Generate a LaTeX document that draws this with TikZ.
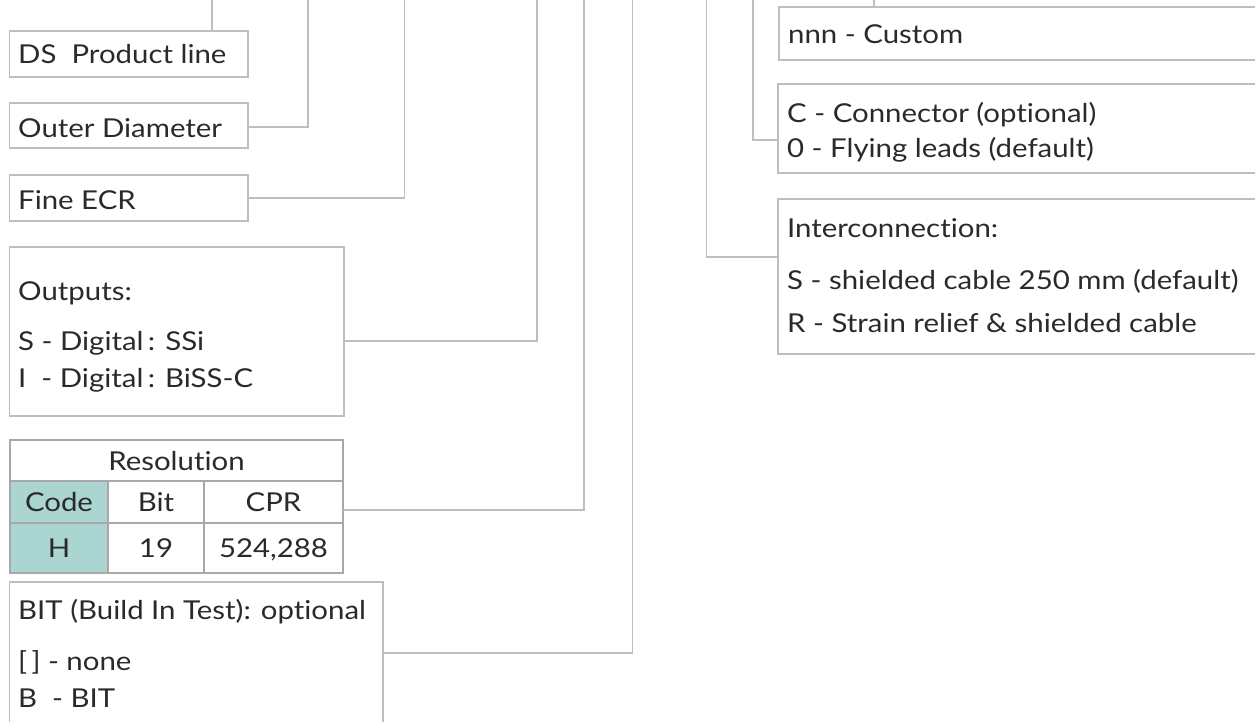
\documentclass[tikz,border=0pt]{standalone}
\usepackage{fontspec}
\setmainfont{Lato}[FakeStretch=1.13, Ligatures={NoCommon,NoContextual}]
\definecolor{boxgray}{HTML}{BEBEBE}
\definecolor{tabgray}{HTML}{A8A8A8}
\definecolor{teal}{HTML}{AAD5D0}
\definecolor{txt}{HTML}{2A2A2A}
\begin{document}
\begin{tikzpicture}[x=1pt,y=-1pt,
  box/.style={draw=boxgray, line width=1.3pt, anchor=north west, inner sep=0pt, outer sep=0pt},
  cell/.style={draw=tabgray, line width=2pt, anchor=north west, inner sep=0pt, outer sep=0pt,
     text height=19pt, text depth=0pt, font=\fontsize{26}{30}\selectfont, text=txt},
  lbl/.style={anchor=base west, inner sep=0pt, font=\fontsize{26}{30}\selectfont, text=txt},
  wire/.style={draw=boxgray, line width=1.3pt}]
\useasboundingbox (0,0) rectangle (1255,722);
% left boxes
\node[box, minimum width=238.5pt, minimum height=46pt] (ds) at (9.5,31) {};
\node[lbl] (dst) at (18,64) {DS\ \ Product line};
\node[box, minimum width=238.5pt, minimum height=45pt] (od) at (9.5,103) {};
\node[lbl] (odt) at (18,138) {Outer Diameter};
\node[box, minimum width=238.5pt, minimum height=46pt] (fe) at (9.5,175) {};
\node[lbl] (fet) at (18,210) {Fine ECR};
\node[box, minimum width=334.5pt, minimum height=169pt] (outp) at (9.5,247) {};
\node[lbl] (o1) at (18,300) {Outputs:};
\node[lbl] (o2) at (18,350) {S - Digital\,: SSi};
\node[lbl] (o3) at (18,387) {I\ \ - Digital\,: BiSS-C};
% table
\node[cell, minimum width=333pt, minimum height=41pt] (res) at (10,440) {Resolution};
\node[cell, fill=teal, minimum width=98pt, minimum height=42pt] (code) at (10,481) {Code};
\node[cell, minimum width=96pt, minimum height=42pt] (bit) at (108,481) {Bit};
\node[cell, minimum width=139pt, minimum height=42pt] (cpr) at (204,481) {CPR};
\node[cell, fill=teal, minimum width=98pt, minimum height=50pt] (hc) at (10,523) {H};
\node[cell, minimum width=96pt, minimum height=50pt] (nb) at (108,523) {19};
\node[cell, minimum width=139pt, minimum height=50pt] (nc) at (204,523) {524,288};
% BIT box
\node[box, minimum width=373.5pt, minimum height=170pt] (bitb) at (9.5,582) {};
\node[lbl] (b1) at (18,619) {BIT (Build In Test): optional};
\node[lbl] (b2) at (18,670) {[\,] - none};
\node[lbl] (b3) at (18,707) {B\ \ - BIT};
% right boxes
\node[box, minimum width=520pt, minimum height=53pt] (nnn) at (779,7) {};
\node[lbl] (nt) at (788,44) {nnn - Custom};
\node[box, minimum width=520pt, minimum height=89pt] (conn) at (778,84) {};
\node[lbl] (c1) at (787,123) {C - Connector (optional)};
\node[lbl] (c2) at (787,158) {0 - Flying leads (default)};
\node[box, minimum width=520pt, minimum height=155pt] (inter) at (778,199) {};
\node[lbl] (i1) at (787,237) {Interconnection:};
\node[lbl] (i2) at (787,289) {S - shielded cable 250 mm (default)};
\node[lbl] (i3) at (787,332) {R - Strain relief \& shielded cable};
% free ends at the top
\coordinate (t1) at (212,-2);
\coordinate (t2) at (308,-2);
\coordinate (t3) at (404.5,-2);
\coordinate (t4) at (537,-2);
\coordinate (t5) at (584,-2);
\coordinate (t6) at (632.5,-2);
\coordinate (t7) at (706.5,-2);
\coordinate (t8) at (753,-2);
\coordinate (t9) at (874,-2);
% connectors
\draw[wire] (ds.north -| t1) -- (t1);
\draw[wire] ([yshift=-1.5pt]od.east) -| (t2);
\draw[wire] (fe.east) -| (t3);
\draw[wire] ([yshift=-9.5pt]outp.east) -| (t4);
\draw[wire] ([yshift=-29pt]cpr.north east) -| (t5);
\draw[wire] ([yshift=14pt]bitb.east) -| (t6);
\draw[wire] ([yshift=19.5pt]inter.west) -| (t7);
\draw[wire] ([yshift=-11.5pt]conn.west) -| (t8);
\draw[wire] (nnn.north -| t9) -- (t9);
\end{tikzpicture}
\end{document}
